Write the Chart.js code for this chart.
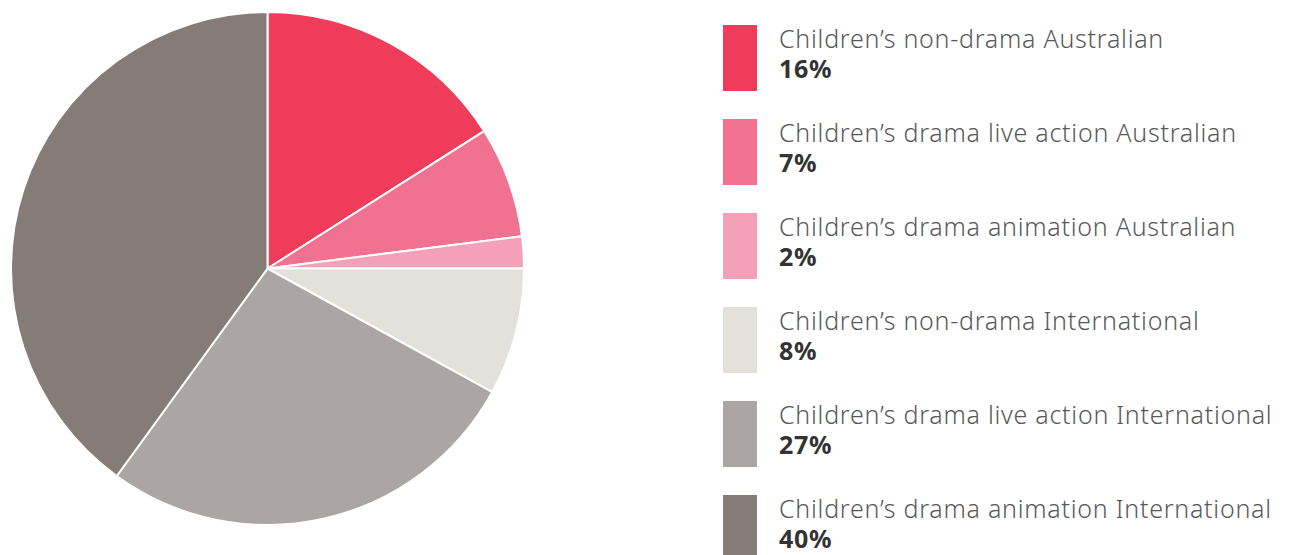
<!DOCTYPE html>
<html>
<head>
<meta charset="utf-8">
<script src="https://cdn.jsdelivr.net/npm/chart.js@4"></script>
<style>
  html, body { margin: 0; padding: 0; background: #ffffff; }
  body { width: 1292px; height: 555px; position: relative; overflow: hidden; }
  #pieBox { position: absolute; left: 10px; top: 11px; width: 515px; height: 515px; }
  #legend { position: absolute; left: 723px; top: 25px; }
  .item { position: absolute; left: 0; width: 569px; height: 66px; }
  .swatch { position: absolute; left: 0; top: 0; width: 34px; height: 66px; }
  .txt { position: absolute; left: 56px; top: -2px; font-family: "Noto Sans", "Open Sans", sans-serif; font-size: 25px; line-height: 30px; letter-spacing: 0.75px; white-space: nowrap; }
  .name { color: #58585a; font-weight: 300; }
  .pct { color: #333333; font-weight: 700; }
</style>
</head>
<body>
<div id="pieBox"><canvas id="pie"></canvas></div>
<div id="legend"></div>
<script>
// Share of children's programme hours by type and origin (%)
const categories = [
  "Children\u2019s non-drama Australian",
  "Children\u2019s drama live action Australian",
  "Children\u2019s drama animation Australian",
  "Children\u2019s non-drama International",
  "Children\u2019s drama live action International",
  "Children\u2019s drama animation International"
];
const shares = [16, 7, 2, 8, 27, 40];
const sliceColors = ["#ee3c5a", "#f07190", "#f4a0b8", "#e4e0da", "#aba6a3", "#857c77"];

new Chart(document.getElementById("pie"), {
  type: "pie",
  data: {
    labels: categories,
    datasets: [{
      data: shares,
      backgroundColor: sliceColors,
      borderColor: "#ffffff",
      borderWidth: 2
    }]
  },
  options: {
    responsive: true,
    maintainAspectRatio: false,
    animation: false,
    layout: { padding: 0 },
    plugins: {
      legend: { display: false },
      tooltip: { enabled: false }
    }
  }
});

// Legend on the right: swatch, category name and bold share
const legend = document.getElementById("legend");
categories.forEach((name, i) => {
  const item = document.createElement("div");
  item.className = "item";
  item.style.top = (i * 94) + "px";
  item.innerHTML =
    '<div class="swatch" style="background:' + sliceColors[i] + '"></div>' +
    '<div class="txt"><div class="name">' + name + '</div>' +
    '<div class="pct">' + shares[i] + '%</div></div>';
  legend.appendChild(item);
});
</script>
</body>
</html>
